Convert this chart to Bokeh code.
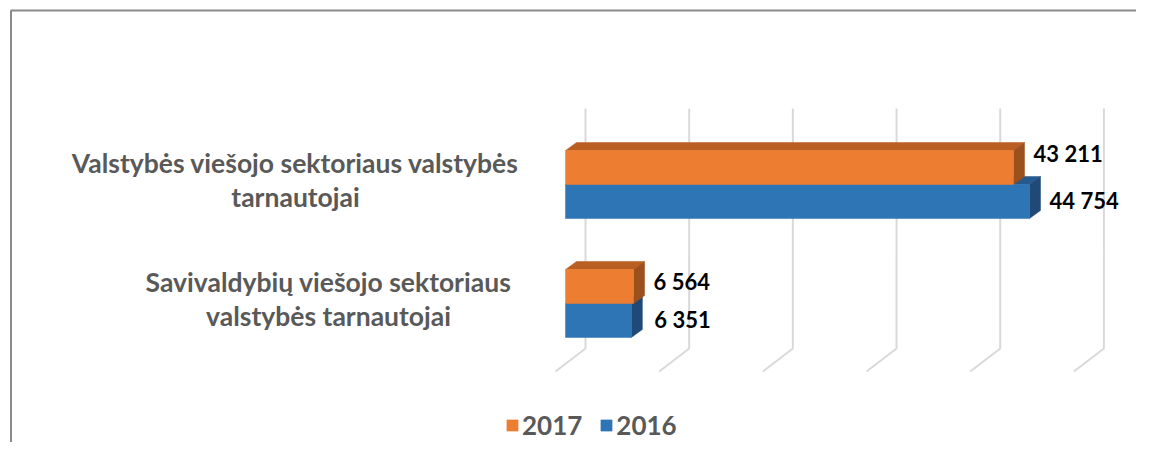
from bokeh.plotting import figure
from bokeh.models import Range1d, Legend, LegendItem
from bokeh.core.properties import value
from bokeh.embed import file_html
from bokeh.resources import INLINE

# ---------------- data ----------------
categories = ["Valstybės viešojo sektoriaus valstybės\ntarnautojai",
              "Savivaldybių viešojo sektoriaus\nvalstybės tarnautojai"]
series_names = ["2017", "2016"]
values_2017 = [43211, 6564]
values_2016 = [44754, 6351]
value_labels_2017 = ["43 211", "6 564"]
value_labels_2016 = ["44 754", "6 351"]
grid_ticks = [0, 10000, 20000, 30000, 40000, 50000]

# ---------------- layout (pixels) ----------------
W, H = 1136, 442
OFF = 0
PX_PER_UNIT = 0.010368      # horizontal scale
ZERO_PAGE_X = 565           # page x of value 0 (bar front)
ROW_PX = 119                # distance between categories
BOTTOM_CAT_PAGE_Y = 303

def X(page_x):
    return (page_x - ZERO_PAGE_X) / PX_PER_UNIT

def Y(page_y):
    return (BOTTOM_CAT_PAGE_Y - page_y) / ROW_PX

def DX(px):
    return px / PX_PER_UNIT

def DY(px):
    return px / ROW_PX

ORANGE = "#ED7D31"
ORANGE_TOP = "#B95F22"
ORANGE_SIDE = "#9C501D"
BLUE = "#2E75B6"
BLUE_TOP = "#26598C"
BLUE_SIDE = "#1F4A77"
GRID = "#D9D9D9"
TEXT_GRAY = "#595959"
FONT = "Lato"

p = figure(width=W, height=H, output_backend="svg", toolbar_location=None,
           x_range=Range1d(X(OFF), X(OFF + W)), y_range=Range1d(Y(OFF + H), Y(OFF)),
           x_axis_type=None, y_axis_type=None, min_border=0,
           outline_line_color=None, background_fill_color="white",
           border_fill_color="white")

# outer chart frame (top and left edges visible)
p.line(x=[X(10.5), X(10.5)], y=[Y(10), Y(OFF + H + 5)], line_color="#8A8A8A", line_width=2)
p.line(x=[X(10), X(OFF + W + 5)], y=[Y(10), Y(10)], line_color="#8A8A8A", line_width=2)

# gridlines on back wall + floor
back = DX(20)
floor = DX(-30)
gxs, gys = [], []
for g in grid_ticks:
    gxs.append([g + back, g + back, g + back + floor])
    gys.append([Y(108), Y(348), Y(371)])
p.multi_line(xs=gxs, ys=gys, line_color=GRID, line_width=2)

# bars
n = len(categories)
cy = [float(n - 1 - i) for i in range(n)]     # top category first
h = DY(34)
ddx, ddy = DX(11), DY(8)

def bar3d(vals, bottoms, tops, front, topc, side):
    top_xs = [[0, v, v + ddx, ddx] for v in vals]
    top_ys = [[t, t, t + ddy, t + ddy] for t in tops]
    side_xs = [[v, v, v + ddx, v + ddx] for v in vals]
    side_ys = [[b, t, t + ddy, b + ddy] for b, t in zip(bottoms, tops)]
    p.patches(xs=top_xs, ys=top_ys, fill_color=topc, line_color=topc, line_width=0.5)
    p.patches(xs=side_xs, ys=side_ys, fill_color=side, line_color=side, line_width=0.5)
    r = p.quad(left=[0] * len(vals), right=vals, bottom=bottoms, top=tops,
               fill_color=front, line_color=front, line_width=0.5)
    return r

r2016 = bar3d(values_2016, [c - h for c in cy], cy, BLUE, BLUE_TOP, BLUE_SIDE)
r2017 = bar3d(values_2017, cy, [c + h for c in cy], ORANGE, ORANGE_TOP, ORANGE_SIDE)

# value labels
p.text(x=values_2017, y=[c + h / 2 for c in cy], text=value_labels_2017,
       x_offset=20, y_offset=[-14, -5], text_font=value(FONT), text_font_style="bold",
       text_font_size="22px", text_color="black", text_baseline="middle", text_align="left")
p.text(x=values_2016, y=[c - h / 2 for c in cy], text=value_labels_2016,
       x_offset=[20, 23], y_offset=-1, text_font=value(FONT), text_font_style="bold",
       text_font_size="22px", text_color="black", text_baseline="middle", text_align="left")

# category labels (centered lines)
label_center_page_x = [295, 328]
for i, cat in enumerate(categories):
    lines = cat.split("\n")
    offs = [-21.5, 12.5]
    p.text(x=[X(label_center_page_x[i])] * len(lines),
           y=[cy[i]] * len(lines),
           y_offset=offs[:len(lines)], text=lines,
           text_font=value(FONT), text_font_style="bold", text_font_size="26.5px",
           text_color=TEXT_GRAY, text_align="center", text_baseline="alphabetic")

legend = Legend(items=[LegendItem(label=series_names[0], renderers=[r2017]),
                       LegendItem(label=series_names[1], renderers=[r2016])],
                orientation="horizontal", location=(505, 1),
                glyph_width=14, glyph_height=14, label_standoff=3, spacing=17,
                padding=0, margin=0, border_line_alpha=0, background_fill_alpha=0,
                label_text_font=FONT, label_text_font_style="bold",
                label_text_font_size="26px", label_text_color=TEXT_GRAY)
p.add_layout(legend)

open("out.html", "w").write(file_html(p, INLINE))
